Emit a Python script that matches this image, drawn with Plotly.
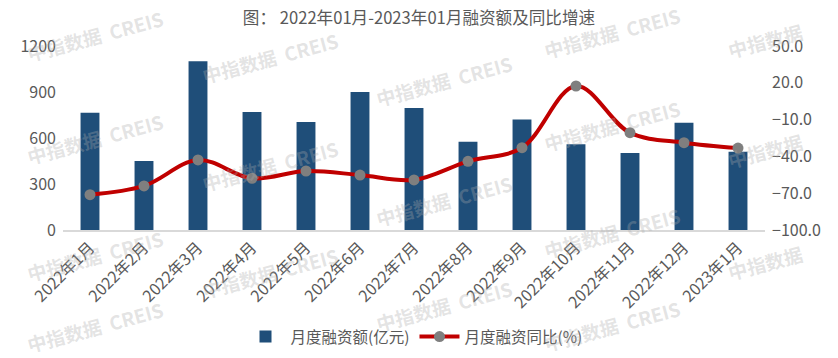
import plotly.graph_objects as go

categories = ["2022年1月", "2022年2月", "2022年3月", "2022年4月", "2022年5月", "2022年6月",
              "2022年7月", "2022年8月", "2022年9月", "2022年10月", "2022年11月", "2022年12月", "2023年1月"]
financing = [765, 450, 1100, 770, 705, 900, 795, 575, 720, 560, 502, 700, 510]
yoy = [-71.2, -64.1, -42.9, -57.9, -51.9, -55.2, -59.2, -44.0, -32.9, 17.4, -20.7, -28.8, -33.2]
left_ticks = [0, 300, 600, 900, 1200]
right_ticks = [-100, -70, -40, -10, 20, 50]

# watermark positions (pixel coords in the 838x358 canvas)
wm_x = [95, 270, 444, 612, 765]
wm_rows = [[35, 138, 255, 326], [57, 165, 272], [80, 200, 305], [32, 125, 232, 325], [40, 150, 262]]

FONT = "Noto Sans CJK SC"
GREY = "#595959"

fig = go.Figure()
fig.add_trace(go.Bar(
    x=categories, y=financing, name="月度融资额(亿元)",
    marker=dict(color="#1F4E79", line=dict(width=0)), yaxis="y",
))
fig.add_trace(go.Scatter(
    x=categories, y=yoy, name="月度融资同比(%)", yaxis="y2",
    mode="lines+markers",
    line=dict(color="#C00000", width=4, shape="spline", smoothing=1.0),
    marker=dict(color="#7F7F7F", size=11),
))

W, H = 838, 358
annotations = []
for cx, rows in zip(wm_x, wm_rows):
    for cy in rows:
        txt = "中指数据" if cx == 765 else "中指数据  CREIS"
        annotations.append(dict(
            text="<b>" + txt + "</b>", xref="paper", yref="paper",
            x=(cx - 63) / (765 - 63), y=(230 - cy) / (230 - 46),
            xanchor="center", yanchor="middle", showarrow=False, textangle=-15,
            font=dict(family=FONT, size=19, color="rgba(170,170,170,0.33)"),
        ))

fig.update_layout(
    width=W, height=H,
    margin=dict(l=63, r=73, t=46, b=128, autoexpand=False),
    plot_bgcolor="white", paper_bgcolor="white",
    font=dict(family=FONT, color=GREY, size=16),
    title=dict(text="图： 2022年01月-2023年01月融资额及同比增速", x=0.5, xanchor="center",
               y=1 - 18 / H, yanchor="middle", font=dict(size=16.6, color=GREY, family=FONT)),
    bargap=0.65,
    showlegend=True,
    legend=dict(orientation="h", x=0.5, xanchor="center", yref="container", y=1 - 337 / H,
                yanchor="middle", font=dict(size=15.5, color=GREY), itemwidth=40),
    xaxis=dict(tickangle=-45, showline=True, linecolor="#D9D9D9", linewidth=2,
               range=[-0.5, len(categories) - 0.5], autorange=False,
               showgrid=False, ticks="", tickfont=dict(size=16, color=GREY)),
    yaxis=dict(range=[0, 1200], tickvals=left_ticks, showgrid=False, zeroline=False,
               showline=False, ticks="", tickfont=dict(size=16, color=GREY), ticklabelstandoff=6),
    yaxis2=dict(range=[-100, 50], tickvals=right_ticks, tickformat=".1f", overlaying="y",
                side="right", showgrid=False, zeroline=False, showline=False, ticks="",
                tickfont=dict(size=16, color=GREY), ticklabelstandoff=6),
    annotations=annotations,
)

fig.write_html("out.html", config={"displayModeBar": False},
               post_script="document.body.style.margin='0';document.body.style.overflow='hidden';")
